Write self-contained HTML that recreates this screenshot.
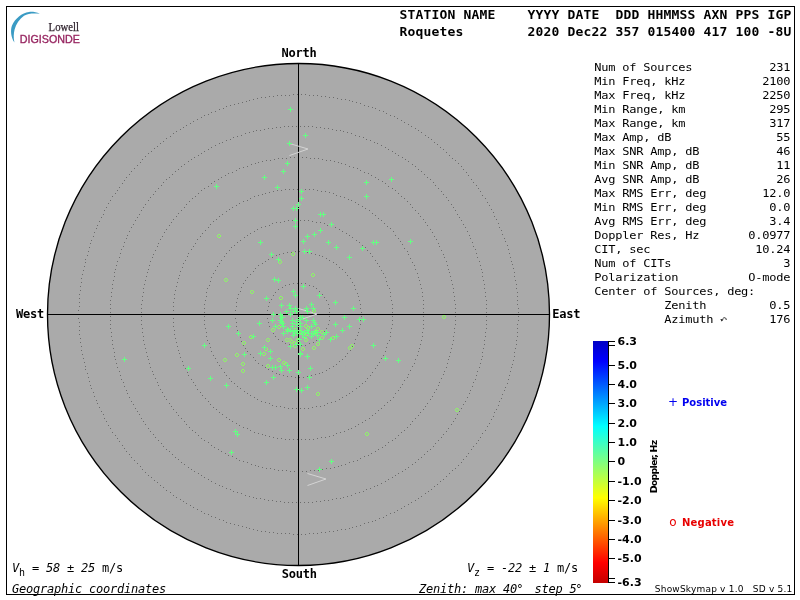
<!DOCTYPE html>
<html lang="en"><head><meta charset="utf-8"><title>Skymap - Roquetes</title>
<style>
html,body{margin:0;padding:0;background:#fff;}
body{width:800px;height:600px;overflow:hidden;}
svg{display:block;position:absolute;left:0;top:0;}
text{white-space:pre;}
.hb{font-family:"DejaVu Sans Mono","Liberation Mono",monospace;font-weight:bold;font-size:13px;letter-spacing:0.174px;fill:#000;}
.cl{font-family:"DejaVu Sans Mono","Liberation Mono",monospace;font-weight:bold;font-size:12px;letter-spacing:-0.224px;fill:#000;}
.st{font-family:"DejaVu Sans Mono","Liberation Mono",monospace;font-size:12px;letter-spacing:-0.224px;fill:#000;}
.s12{font-family:"DejaVu Sans Mono","Liberation Mono",monospace;font-size:12px;letter-spacing:-0.224px;fill:#000;}
.it{font-family:"DejaVu Sans Mono","Liberation Mono",monospace;font-size:12px;font-style:italic;letter-spacing:-0.224px;fill:#000;}
.cb{font-family:"DejaVu Sans","Liberation Sans",sans-serif;font-weight:bold;font-size:11px;fill:#000;}
.sm{font-family:"DejaVu Sans","Liberation Sans",sans-serif;font-size:9px;fill:#000;}
</style></head><body>
<svg width="800" height="600" viewBox="0 0 800 600">
<defs>
<linearGradient id="dop" x1="0" y1="0" x2="0" y2="1">
<stop offset="0.0000" stop-color="#0000c4"/>
<stop offset="0.0840" stop-color="#0000ff"/>
<stop offset="0.3520" stop-color="#00ffff"/>
<stop offset="0.5000" stop-color="#80ff80"/>
<stop offset="0.6480" stop-color="#ffff00"/>
<stop offset="0.9160" stop-color="#ff0000"/>
<stop offset="1.0000" stop-color="#c40000"/>
</linearGradient>
</defs>
<rect x="0" y="0" width="800" height="600" fill="#fff"/>
<rect x="6.5" y="6.5" width="788" height="588" fill="none" stroke="#000" stroke-width="1" shape-rendering="crispEdges"/>
<g id="logo">
<path d="M39.8 13.7 C 36 12.1, 32 11.6, 29 12 C 22 13, 15 18.5, 12 25.5 C 10.3 30, 10.8 37, 14.4 42.6 C 13.4 38, 13.6 33, 14.6 29.5 C 16 24, 19.5 19, 24 15.8 C 28 13.4, 33 13.2, 39.8 13.7 Z" fill="#3a9bc4"/>
<text x="48.6" y="30.6" textLength="30.4" lengthAdjust="spacingAndGlyphs" style="font-family:'Liberation Serif',serif;font-size:11.8px;fill:#2c1f2a;stroke:#2c1f2a;stroke-width:0.25">Lowell</text>
<text x="19.8" y="42.5" style="font-family:'Liberation Sans',sans-serif;font-size:10.2px;fill:#96235f;stroke:#96235f;stroke-width:0.3" textLength="60.2" lengthAdjust="spacingAndGlyphs">DIGISONDE</text>
</g>
<text class="hb" x="399.4" y="19">STATION NAME    YYYY DATE  DDD HHMMSS AXN PPS IGP</text>
<text class="hb" x="399.4" y="36">Roquetes        2020 Dec22 357 015400 417 100 -8U</text>
<circle cx="298.5" cy="314.5" r="251.0" fill="#aaaaaa" stroke="#000" stroke-width="1.35"/>
<path fill="#6c6c6c" shape-rendering="crispEdges" d="M329 316h1v1h-1zM329 320h1v1h-1zM328 324h1v1h-1zM326 328h1v1h-1zM324 331h1v1h-1zM322 334h1v1h-1zM319 337h1v1h-1zM316 340h1v1h-1zM313 342h1v1h-1zM309 343h1v1h-1zM305 345h1v1h-1zM301 345h1v1h-1zM297 345h1v1h-1zM293 345h1v1h-1zM289 344h1v1h-1zM285 343h1v1h-1zM282 341h1v1h-1zM278 339h1v1h-1zM275 336h1v1h-1zM273 333h1v1h-1zM271 329h1v1h-1zM269 326h1v1h-1zM268 322h1v1h-1zM267 318h1v1h-1zM267 314h1v1h-1zM267 310h1v1h-1zM268 306h1v1h-1zM269 302h1v1h-1zM271 299h1v1h-1zM273 295h1v1h-1zM275 292h1v1h-1zM278 289h1v1h-1zM282 287h1v1h-1zM285 285h1v1h-1zM289 284h1v1h-1zM293 283h1v1h-1zM297 283h1v1h-1zM301 283h1v1h-1zM305 283h1v1h-1zM309 285h1v1h-1zM313 286h1v1h-1zM316 288h1v1h-1zM319 291h1v1h-1zM322 294h1v1h-1zM324 297h1v1h-1zM326 300h1v1h-1zM328 304h1v1h-1zM329 308h1v1h-1zM329 312h1v1h-1zM361 316h1v1h-1zM360 320h1v1h-1zM360 324h1v1h-1zM359 328h1v1h-1zM358 332h1v1h-1zM357 335h1v1h-1zM355 339h1v1h-1zM354 343h1v1h-1zM352 346h1v1h-1zM350 350h1v1h-1zM347 353h1v1h-1zM345 356h1v1h-1zM342 359h1v1h-1zM339 361h1v1h-1zM336 364h1v1h-1zM333 366h1v1h-1zM329 368h1v1h-1zM326 370h1v1h-1zM322 372h1v1h-1zM319 373h1v1h-1zM315 374h1v1h-1zM311 375h1v1h-1zM307 376h1v1h-1zM303 377h1v1h-1zM299 377h1v1h-1zM295 377h1v1h-1zM291 376h1v1h-1zM287 376h1v1h-1zM283 375h1v1h-1zM279 374h1v1h-1zM276 373h1v1h-1zM272 371h1v1h-1zM268 369h1v1h-1zM265 367h1v1h-1zM262 365h1v1h-1zM258 363h1v1h-1zM255 360h1v1h-1zM253 357h1v1h-1zM250 354h1v1h-1zM247 351h1v1h-1zM245 348h1v1h-1zM243 345h1v1h-1zM241 341h1v1h-1zM240 337h1v1h-1zM238 334h1v1h-1zM237 330h1v1h-1zM236 326h1v1h-1zM236 322h1v1h-1zM235 318h1v1h-1zM235 314h1v1h-1zM235 310h1v1h-1zM236 306h1v1h-1zM236 302h1v1h-1zM237 298h1v1h-1zM238 294h1v1h-1zM240 291h1v1h-1zM241 287h1v1h-1zM243 283h1v1h-1zM245 280h1v1h-1zM247 277h1v1h-1zM250 274h1v1h-1zM253 271h1v1h-1zM255 268h1v1h-1zM258 265h1v1h-1zM262 263h1v1h-1zM265 261h1v1h-1zM268 259h1v1h-1zM272 257h1v1h-1zM276 255h1v1h-1zM279 254h1v1h-1zM283 253h1v1h-1zM287 252h1v1h-1zM291 252h1v1h-1zM295 251h1v1h-1zM299 251h1v1h-1zM303 251h1v1h-1zM307 252h1v1h-1zM311 253h1v1h-1zM315 254h1v1h-1zM319 255h1v1h-1zM322 256h1v1h-1zM326 258h1v1h-1zM329 260h1v1h-1zM333 262h1v1h-1zM336 264h1v1h-1zM339 267h1v1h-1zM342 269h1v1h-1zM345 272h1v1h-1zM347 275h1v1h-1zM350 278h1v1h-1zM352 282h1v1h-1zM354 285h1v1h-1zM355 289h1v1h-1zM357 293h1v1h-1zM358 296h1v1h-1zM359 300h1v1h-1zM360 304h1v1h-1zM360 308h1v1h-1zM361 312h1v1h-1zM392 316h1v1h-1zM392 320h1v1h-1zM392 324h1v1h-1zM391 328h1v1h-1zM390 332h1v1h-1zM390 336h1v1h-1zM389 340h1v1h-1zM387 343h1v1h-1zM386 347h1v1h-1zM385 351h1v1h-1zM383 355h1v1h-1zM381 358h1v1h-1zM379 362h1v1h-1zM377 365h1v1h-1zM375 368h1v1h-1zM372 372h1v1h-1zM370 375h1v1h-1zM367 378h1v1h-1zM365 381h1v1h-1zM362 383h1v1h-1zM359 386h1v1h-1zM356 388h1v1h-1zM352 391h1v1h-1zM349 393h1v1h-1zM346 395h1v1h-1zM342 397h1v1h-1zM339 399h1v1h-1zM335 401h1v1h-1zM331 402h1v1h-1zM327 403h1v1h-1zM324 405h1v1h-1zM320 406h1v1h-1zM316 406h1v1h-1zM312 407h1v1h-1zM308 408h1v1h-1zM304 408h1v1h-1zM300 408h1v1h-1zM296 408h1v1h-1zM292 408h1v1h-1zM288 408h1v1h-1zM284 407h1v1h-1zM280 406h1v1h-1zM276 406h1v1h-1zM272 405h1v1h-1zM269 403h1v1h-1zM265 402h1v1h-1zM261 401h1v1h-1zM257 399h1v1h-1zM254 397h1v1h-1zM250 395h1v1h-1zM247 393h1v1h-1zM244 391h1v1h-1zM240 388h1v1h-1zM237 386h1v1h-1zM234 383h1v1h-1zM231 381h1v1h-1zM229 378h1v1h-1zM226 375h1v1h-1zM224 372h1v1h-1zM221 368h1v1h-1zM219 365h1v1h-1zM217 362h1v1h-1zM215 358h1v1h-1zM213 355h1v1h-1zM211 351h1v1h-1zM210 347h1v1h-1zM209 343h1v1h-1zM207 340h1v1h-1zM206 336h1v1h-1zM206 332h1v1h-1zM205 328h1v1h-1zM204 324h1v1h-1zM204 320h1v1h-1zM204 316h1v1h-1zM204 312h1v1h-1zM204 308h1v1h-1zM204 304h1v1h-1zM205 300h1v1h-1zM206 296h1v1h-1zM206 292h1v1h-1zM207 288h1v1h-1zM209 285h1v1h-1zM210 281h1v1h-1zM211 277h1v1h-1zM213 273h1v1h-1zM215 270h1v1h-1zM217 266h1v1h-1zM219 263h1v1h-1zM221 260h1v1h-1zM224 256h1v1h-1zM226 253h1v1h-1zM229 250h1v1h-1zM231 247h1v1h-1zM234 245h1v1h-1zM237 242h1v1h-1zM240 240h1v1h-1zM244 237h1v1h-1zM247 235h1v1h-1zM250 233h1v1h-1zM254 231h1v1h-1zM257 229h1v1h-1zM261 227h1v1h-1zM265 226h1v1h-1zM269 225h1v1h-1zM272 223h1v1h-1zM276 222h1v1h-1zM280 222h1v1h-1zM284 221h1v1h-1zM288 220h1v1h-1zM292 220h1v1h-1zM296 220h1v1h-1zM300 220h1v1h-1zM304 220h1v1h-1zM308 220h1v1h-1zM312 221h1v1h-1zM316 222h1v1h-1zM320 222h1v1h-1zM324 223h1v1h-1zM327 225h1v1h-1zM331 226h1v1h-1zM335 227h1v1h-1zM339 229h1v1h-1zM342 231h1v1h-1zM346 233h1v1h-1zM349 235h1v1h-1zM352 237h1v1h-1zM356 240h1v1h-1zM359 242h1v1h-1zM362 245h1v1h-1zM365 247h1v1h-1zM367 250h1v1h-1zM370 253h1v1h-1zM372 256h1v1h-1zM375 260h1v1h-1zM377 263h1v1h-1zM379 266h1v1h-1zM381 270h1v1h-1zM383 273h1v1h-1zM385 277h1v1h-1zM386 281h1v1h-1zM387 285h1v1h-1zM389 288h1v1h-1zM390 292h1v1h-1zM390 296h1v1h-1zM391 300h1v1h-1zM392 304h1v1h-1zM392 308h1v1h-1zM392 312h1v1h-1zM423 316h1v1h-1zM423 320h1v1h-1zM423 324h1v1h-1zM423 328h1v1h-1zM422 332h1v1h-1zM422 336h1v1h-1zM421 340h1v1h-1zM420 344h1v1h-1zM419 348h1v1h-1zM418 351h1v1h-1zM417 355h1v1h-1zM415 359h1v1h-1zM414 363h1v1h-1zM412 366h1v1h-1zM410 370h1v1h-1zM408 374h1v1h-1zM407 377h1v1h-1zM404 380h1v1h-1zM402 384h1v1h-1zM400 387h1v1h-1zM398 390h1v1h-1zM395 393h1v1h-1zM393 397h1v1h-1zM390 400h1v1h-1zM387 402h1v1h-1zM384 405h1v1h-1zM381 408h1v1h-1zM378 410h1v1h-1zM375 413h1v1h-1zM372 415h1v1h-1zM369 418h1v1h-1zM365 420h1v1h-1zM362 422h1v1h-1zM358 424h1v1h-1zM355 426h1v1h-1zM351 428h1v1h-1zM348 429h1v1h-1zM344 431h1v1h-1zM340 432h1v1h-1zM336 433h1v1h-1zM333 435h1v1h-1zM329 436h1v1h-1zM325 437h1v1h-1zM321 437h1v1h-1zM317 438h1v1h-1zM313 439h1v1h-1zM309 439h1v1h-1zM305 439h1v1h-1zM301 439h1v1h-1zM297 439h1v1h-1zM293 439h1v1h-1zM289 439h1v1h-1zM285 439h1v1h-1zM281 438h1v1h-1zM277 438h1v1h-1zM273 437h1v1h-1zM269 436h1v1h-1zM265 435h1v1h-1zM262 434h1v1h-1zM258 433h1v1h-1zM254 432h1v1h-1zM250 430h1v1h-1zM247 428h1v1h-1zM243 427h1v1h-1zM239 425h1v1h-1zM236 423h1v1h-1zM232 421h1v1h-1zM229 419h1v1h-1zM226 417h1v1h-1zM222 414h1v1h-1zM219 412h1v1h-1zM216 409h1v1h-1zM213 407h1v1h-1zM210 404h1v1h-1zM208 401h1v1h-1zM205 398h1v1h-1zM202 395h1v1h-1zM200 392h1v1h-1zM197 389h1v1h-1zM195 385h1v1h-1zM193 382h1v1h-1zM191 379h1v1h-1zM188 375h1v1h-1zM187 372h1v1h-1zM185 368h1v1h-1zM183 365h1v1h-1zM182 361h1v1h-1zM180 357h1v1h-1zM179 353h1v1h-1zM178 350h1v1h-1zM177 346h1v1h-1zM176 342h1v1h-1zM175 338h1v1h-1zM174 334h1v1h-1zM174 330h1v1h-1zM173 326h1v1h-1zM173 322h1v1h-1zM173 318h1v1h-1zM173 314h1v1h-1zM173 310h1v1h-1zM173 306h1v1h-1zM173 302h1v1h-1zM174 298h1v1h-1zM174 294h1v1h-1zM175 290h1v1h-1zM176 286h1v1h-1zM177 282h1v1h-1zM178 278h1v1h-1zM179 275h1v1h-1zM180 271h1v1h-1zM182 267h1v1h-1zM183 263h1v1h-1zM185 260h1v1h-1zM187 256h1v1h-1zM188 253h1v1h-1zM191 249h1v1h-1zM193 246h1v1h-1zM195 243h1v1h-1zM197 239h1v1h-1zM200 236h1v1h-1zM202 233h1v1h-1zM205 230h1v1h-1zM208 227h1v1h-1zM210 224h1v1h-1zM213 221h1v1h-1zM216 219h1v1h-1zM219 216h1v1h-1zM222 214h1v1h-1zM226 211h1v1h-1zM229 209h1v1h-1zM232 207h1v1h-1zM236 205h1v1h-1zM239 203h1v1h-1zM243 201h1v1h-1zM247 200h1v1h-1zM250 198h1v1h-1zM254 196h1v1h-1zM258 195h1v1h-1zM262 194h1v1h-1zM265 193h1v1h-1zM269 192h1v1h-1zM273 191h1v1h-1zM277 190h1v1h-1zM281 190h1v1h-1zM285 189h1v1h-1zM289 189h1v1h-1zM293 189h1v1h-1zM297 189h1v1h-1zM301 189h1v1h-1zM305 189h1v1h-1zM309 189h1v1h-1zM313 189h1v1h-1zM317 190h1v1h-1zM321 191h1v1h-1zM325 191h1v1h-1zM329 192h1v1h-1zM333 193h1v1h-1zM336 195h1v1h-1zM340 196h1v1h-1zM344 197h1v1h-1zM348 199h1v1h-1zM351 200h1v1h-1zM355 202h1v1h-1zM358 204h1v1h-1zM362 206h1v1h-1zM365 208h1v1h-1zM369 210h1v1h-1zM372 213h1v1h-1zM375 215h1v1h-1zM378 218h1v1h-1zM381 220h1v1h-1zM384 223h1v1h-1zM387 226h1v1h-1zM390 228h1v1h-1zM393 231h1v1h-1zM395 235h1v1h-1zM398 238h1v1h-1zM400 241h1v1h-1zM402 244h1v1h-1zM404 248h1v1h-1zM407 251h1v1h-1zM408 254h1v1h-1zM410 258h1v1h-1zM412 262h1v1h-1zM414 265h1v1h-1zM415 269h1v1h-1zM417 273h1v1h-1zM418 277h1v1h-1zM419 280h1v1h-1zM420 284h1v1h-1zM421 288h1v1h-1zM422 292h1v1h-1zM422 296h1v1h-1zM423 300h1v1h-1zM423 304h1v1h-1zM423 308h1v1h-1zM423 312h1v1h-1zM455 316h1v1h-1zM455 320h1v1h-1zM455 324h1v1h-1zM454 328h1v1h-1zM454 332h1v1h-1zM453 336h1v1h-1zM453 340h1v1h-1zM452 344h1v1h-1zM451 348h1v1h-1zM450 352h1v1h-1zM449 356h1v1h-1zM448 359h1v1h-1zM447 363h1v1h-1zM446 367h1v1h-1zM444 371h1v1h-1zM443 374h1v1h-1zM441 378h1v1h-1zM439 382h1v1h-1zM438 385h1v1h-1zM436 389h1v1h-1zM434 392h1v1h-1zM432 396h1v1h-1zM430 399h1v1h-1zM427 403h1v1h-1zM425 406h1v1h-1zM423 409h1v1h-1zM420 412h1v1h-1zM418 415h1v1h-1zM415 418h1v1h-1zM412 421h1v1h-1zM410 424h1v1h-1zM407 427h1v1h-1zM404 430h1v1h-1zM401 432h1v1h-1zM398 435h1v1h-1zM395 438h1v1h-1zM392 440h1v1h-1zM388 442h1v1h-1zM385 445h1v1h-1zM382 447h1v1h-1zM378 449h1v1h-1zM375 451h1v1h-1zM371 453h1v1h-1zM368 455h1v1h-1zM364 456h1v1h-1zM360 458h1v1h-1zM357 460h1v1h-1zM353 461h1v1h-1zM349 462h1v1h-1zM345 464h1v1h-1zM341 465h1v1h-1zM338 466h1v1h-1zM334 467h1v1h-1zM330 468h1v1h-1zM326 468h1v1h-1zM322 469h1v1h-1zM318 470h1v1h-1zM314 470h1v1h-1zM310 470h1v1h-1zM306 471h1v1h-1zM302 471h1v1h-1zM298 471h1v1h-1zM294 471h1v1h-1zM290 471h1v1h-1zM286 470h1v1h-1zM282 470h1v1h-1zM278 470h1v1h-1zM274 469h1v1h-1zM270 468h1v1h-1zM266 468h1v1h-1zM262 467h1v1h-1zM258 466h1v1h-1zM255 465h1v1h-1zM251 464h1v1h-1zM247 462h1v1h-1zM243 461h1v1h-1zM239 460h1v1h-1zM236 458h1v1h-1zM232 456h1v1h-1zM228 455h1v1h-1zM225 453h1v1h-1zM221 451h1v1h-1zM218 449h1v1h-1zM214 447h1v1h-1zM211 445h1v1h-1zM208 442h1v1h-1zM204 440h1v1h-1zM201 438h1v1h-1zM198 435h1v1h-1zM195 432h1v1h-1zM192 430h1v1h-1zM189 427h1v1h-1zM186 424h1v1h-1zM184 421h1v1h-1zM181 418h1v1h-1zM178 415h1v1h-1zM176 412h1v1h-1zM173 409h1v1h-1zM171 406h1v1h-1zM169 403h1v1h-1zM166 399h1v1h-1zM164 396h1v1h-1zM162 392h1v1h-1zM160 389h1v1h-1zM158 385h1v1h-1zM157 382h1v1h-1zM155 378h1v1h-1zM153 374h1v1h-1zM152 371h1v1h-1zM150 367h1v1h-1zM149 363h1v1h-1zM148 359h1v1h-1zM147 356h1v1h-1zM146 352h1v1h-1zM145 348h1v1h-1zM144 344h1v1h-1zM143 340h1v1h-1zM143 336h1v1h-1zM142 332h1v1h-1zM142 328h1v1h-1zM141 324h1v1h-1zM141 320h1v1h-1zM141 316h1v1h-1zM141 312h1v1h-1zM141 308h1v1h-1zM141 304h1v1h-1zM142 300h1v1h-1zM142 296h1v1h-1zM143 292h1v1h-1zM143 288h1v1h-1zM144 284h1v1h-1zM145 280h1v1h-1zM146 276h1v1h-1zM147 272h1v1h-1zM148 269h1v1h-1zM149 265h1v1h-1zM150 261h1v1h-1zM152 257h1v1h-1zM153 254h1v1h-1zM155 250h1v1h-1zM157 246h1v1h-1zM158 243h1v1h-1zM160 239h1v1h-1zM162 236h1v1h-1zM164 232h1v1h-1zM166 229h1v1h-1zM169 225h1v1h-1zM171 222h1v1h-1zM173 219h1v1h-1zM176 216h1v1h-1zM178 213h1v1h-1zM181 210h1v1h-1zM184 207h1v1h-1zM186 204h1v1h-1zM189 201h1v1h-1zM192 198h1v1h-1zM195 196h1v1h-1zM198 193h1v1h-1zM201 190h1v1h-1zM204 188h1v1h-1zM208 186h1v1h-1zM211 183h1v1h-1zM214 181h1v1h-1zM218 179h1v1h-1zM221 177h1v1h-1zM225 175h1v1h-1zM228 173h1v1h-1zM232 172h1v1h-1zM236 170h1v1h-1zM239 168h1v1h-1zM243 167h1v1h-1zM247 166h1v1h-1zM251 164h1v1h-1zM255 163h1v1h-1zM258 162h1v1h-1zM262 161h1v1h-1zM266 160h1v1h-1zM270 160h1v1h-1zM274 159h1v1h-1zM278 158h1v1h-1zM282 158h1v1h-1zM286 158h1v1h-1zM290 157h1v1h-1zM294 157h1v1h-1zM298 157h1v1h-1zM302 157h1v1h-1zM306 157h1v1h-1zM310 158h1v1h-1zM314 158h1v1h-1zM318 158h1v1h-1zM322 159h1v1h-1zM326 160h1v1h-1zM330 160h1v1h-1zM334 161h1v1h-1zM338 162h1v1h-1zM341 163h1v1h-1zM345 164h1v1h-1zM349 166h1v1h-1zM353 167h1v1h-1zM357 168h1v1h-1zM360 170h1v1h-1zM364 172h1v1h-1zM368 173h1v1h-1zM371 175h1v1h-1zM375 177h1v1h-1zM378 179h1v1h-1zM382 181h1v1h-1zM385 183h1v1h-1zM388 186h1v1h-1zM392 188h1v1h-1zM395 190h1v1h-1zM398 193h1v1h-1zM401 196h1v1h-1zM404 198h1v1h-1zM407 201h1v1h-1zM410 204h1v1h-1zM412 207h1v1h-1zM415 210h1v1h-1zM418 213h1v1h-1zM420 216h1v1h-1zM423 219h1v1h-1zM425 222h1v1h-1zM427 225h1v1h-1zM430 229h1v1h-1zM432 232h1v1h-1zM434 236h1v1h-1zM436 239h1v1h-1zM438 243h1v1h-1zM439 246h1v1h-1zM441 250h1v1h-1zM443 254h1v1h-1zM444 257h1v1h-1zM446 261h1v1h-1zM447 265h1v1h-1zM448 269h1v1h-1zM449 272h1v1h-1zM450 276h1v1h-1zM451 280h1v1h-1zM452 284h1v1h-1zM453 288h1v1h-1zM453 292h1v1h-1zM454 296h1v1h-1zM454 300h1v1h-1zM455 304h1v1h-1zM455 308h1v1h-1zM455 312h1v1h-1zM486 316h1v1h-1zM486 320h1v1h-1zM486 324h1v1h-1zM486 328h1v1h-1zM485 332h1v1h-1zM485 336h1v1h-1zM484 340h1v1h-1zM484 344h1v1h-1zM483 348h1v1h-1zM482 352h1v1h-1zM482 356h1v1h-1zM481 359h1v1h-1zM480 363h1v1h-1zM479 367h1v1h-1zM477 371h1v1h-1zM476 375h1v1h-1zM475 379h1v1h-1zM473 382h1v1h-1zM472 386h1v1h-1zM470 390h1v1h-1zM469 393h1v1h-1zM467 397h1v1h-1zM465 401h1v1h-1zM463 404h1v1h-1zM461 408h1v1h-1zM459 411h1v1h-1zM457 414h1v1h-1zM455 418h1v1h-1zM453 421h1v1h-1zM451 424h1v1h-1zM448 428h1v1h-1zM446 431h1v1h-1zM443 434h1v1h-1zM441 437h1v1h-1zM438 440h1v1h-1zM435 443h1v1h-1zM433 446h1v1h-1zM430 449h1v1h-1zM427 451h1v1h-1zM424 454h1v1h-1zM421 457h1v1h-1zM418 459h1v1h-1zM415 462h1v1h-1zM412 464h1v1h-1zM408 467h1v1h-1zM405 469h1v1h-1zM402 471h1v1h-1zM398 473h1v1h-1zM395 475h1v1h-1zM392 477h1v1h-1zM388 479h1v1h-1zM385 481h1v1h-1zM381 483h1v1h-1zM377 485h1v1h-1zM374 486h1v1h-1zM370 488h1v1h-1zM366 489h1v1h-1zM363 491h1v1h-1zM359 492h1v1h-1zM355 493h1v1h-1zM351 495h1v1h-1zM347 496h1v1h-1zM343 497h1v1h-1zM340 498h1v1h-1zM336 498h1v1h-1zM332 499h1v1h-1zM328 500h1v1h-1zM324 500h1v1h-1zM320 501h1v1h-1zM316 501h1v1h-1zM312 502h1v1h-1zM308 502h1v1h-1zM304 502h1v1h-1zM300 502h1v1h-1zM296 502h1v1h-1zM292 502h1v1h-1zM288 502h1v1h-1zM284 502h1v1h-1zM280 501h1v1h-1zM276 501h1v1h-1zM272 500h1v1h-1zM268 500h1v1h-1zM264 499h1v1h-1zM260 498h1v1h-1zM256 498h1v1h-1zM253 497h1v1h-1zM249 496h1v1h-1zM245 495h1v1h-1zM241 493h1v1h-1zM237 492h1v1h-1zM233 491h1v1h-1zM230 489h1v1h-1zM226 488h1v1h-1zM222 486h1v1h-1zM219 485h1v1h-1zM215 483h1v1h-1zM211 481h1v1h-1zM208 479h1v1h-1zM204 477h1v1h-1zM201 475h1v1h-1zM198 473h1v1h-1zM194 471h1v1h-1zM191 469h1v1h-1zM188 467h1v1h-1zM184 464h1v1h-1zM181 462h1v1h-1zM178 459h1v1h-1zM175 457h1v1h-1zM172 454h1v1h-1zM169 451h1v1h-1zM166 449h1v1h-1zM163 446h1v1h-1zM161 443h1v1h-1zM158 440h1v1h-1zM155 437h1v1h-1zM153 434h1v1h-1zM150 431h1v1h-1zM148 428h1v1h-1zM145 424h1v1h-1zM143 421h1v1h-1zM141 418h1v1h-1zM139 414h1v1h-1zM137 411h1v1h-1zM135 408h1v1h-1zM133 404h1v1h-1zM131 401h1v1h-1zM129 397h1v1h-1zM127 393h1v1h-1zM126 390h1v1h-1zM124 386h1v1h-1zM123 382h1v1h-1zM121 379h1v1h-1zM120 375h1v1h-1zM119 371h1v1h-1zM117 367h1v1h-1zM116 363h1v1h-1zM115 359h1v1h-1zM114 356h1v1h-1zM114 352h1v1h-1zM113 348h1v1h-1zM112 344h1v1h-1zM112 340h1v1h-1zM111 336h1v1h-1zM111 332h1v1h-1zM110 328h1v1h-1zM110 324h1v1h-1zM110 320h1v1h-1zM110 316h1v1h-1zM110 312h1v1h-1zM110 308h1v1h-1zM110 304h1v1h-1zM110 300h1v1h-1zM111 296h1v1h-1zM111 292h1v1h-1zM112 288h1v1h-1zM112 284h1v1h-1zM113 280h1v1h-1zM114 276h1v1h-1zM114 272h1v1h-1zM115 269h1v1h-1zM116 265h1v1h-1zM117 261h1v1h-1zM119 257h1v1h-1zM120 253h1v1h-1zM121 249h1v1h-1zM123 246h1v1h-1zM124 242h1v1h-1zM126 238h1v1h-1zM127 235h1v1h-1zM129 231h1v1h-1zM131 227h1v1h-1zM133 224h1v1h-1zM135 220h1v1h-1zM137 217h1v1h-1zM139 214h1v1h-1zM141 210h1v1h-1zM143 207h1v1h-1zM145 204h1v1h-1zM148 200h1v1h-1zM150 197h1v1h-1zM153 194h1v1h-1zM155 191h1v1h-1zM158 188h1v1h-1zM161 185h1v1h-1zM163 182h1v1h-1zM166 179h1v1h-1zM169 177h1v1h-1zM172 174h1v1h-1zM175 171h1v1h-1zM178 169h1v1h-1zM181 166h1v1h-1zM184 164h1v1h-1zM188 161h1v1h-1zM191 159h1v1h-1zM194 157h1v1h-1zM198 155h1v1h-1zM201 153h1v1h-1zM204 151h1v1h-1zM208 149h1v1h-1zM211 147h1v1h-1zM215 145h1v1h-1zM219 143h1v1h-1zM222 142h1v1h-1zM226 140h1v1h-1zM230 139h1v1h-1zM233 137h1v1h-1zM237 136h1v1h-1zM241 135h1v1h-1zM245 133h1v1h-1zM249 132h1v1h-1zM253 131h1v1h-1zM256 130h1v1h-1zM260 130h1v1h-1zM264 129h1v1h-1zM268 128h1v1h-1zM272 128h1v1h-1zM276 127h1v1h-1zM280 127h1v1h-1zM284 126h1v1h-1zM288 126h1v1h-1zM292 126h1v1h-1zM296 126h1v1h-1zM300 126h1v1h-1zM304 126h1v1h-1zM308 126h1v1h-1zM312 126h1v1h-1zM316 127h1v1h-1zM320 127h1v1h-1zM324 128h1v1h-1zM328 128h1v1h-1zM332 129h1v1h-1zM336 130h1v1h-1zM340 130h1v1h-1zM343 131h1v1h-1zM347 132h1v1h-1zM351 133h1v1h-1zM355 135h1v1h-1zM359 136h1v1h-1zM363 137h1v1h-1zM366 139h1v1h-1zM370 140h1v1h-1zM374 142h1v1h-1zM377 143h1v1h-1zM381 145h1v1h-1zM385 147h1v1h-1zM388 149h1v1h-1zM392 151h1v1h-1zM395 153h1v1h-1zM398 155h1v1h-1zM402 157h1v1h-1zM405 159h1v1h-1zM408 161h1v1h-1zM412 164h1v1h-1zM415 166h1v1h-1zM418 169h1v1h-1zM421 171h1v1h-1zM424 174h1v1h-1zM427 177h1v1h-1zM430 179h1v1h-1zM433 182h1v1h-1zM435 185h1v1h-1zM438 188h1v1h-1zM441 191h1v1h-1zM443 194h1v1h-1zM446 197h1v1h-1zM448 200h1v1h-1zM451 204h1v1h-1zM453 207h1v1h-1zM455 210h1v1h-1zM457 214h1v1h-1zM459 217h1v1h-1zM461 220h1v1h-1zM463 224h1v1h-1zM465 227h1v1h-1zM467 231h1v1h-1zM469 235h1v1h-1zM470 238h1v1h-1zM472 242h1v1h-1zM473 246h1v1h-1zM475 249h1v1h-1zM476 253h1v1h-1zM477 257h1v1h-1zM479 261h1v1h-1zM480 265h1v1h-1zM481 269h1v1h-1zM482 272h1v1h-1zM482 276h1v1h-1zM483 280h1v1h-1zM484 284h1v1h-1zM484 288h1v1h-1zM485 292h1v1h-1zM485 296h1v1h-1zM486 300h1v1h-1zM486 304h1v1h-1zM486 308h1v1h-1zM486 312h1v1h-1zM518 316h1v1h-1zM518 320h1v1h-1zM517 324h1v1h-1zM517 328h1v1h-1zM517 332h1v1h-1zM517 336h1v1h-1zM516 340h1v1h-1zM516 344h1v1h-1zM515 348h1v1h-1zM514 352h1v1h-1zM514 356h1v1h-1zM513 360h1v1h-1zM512 364h1v1h-1zM511 367h1v1h-1zM510 371h1v1h-1zM509 375h1v1h-1zM508 379h1v1h-1zM507 383h1v1h-1zM505 387h1v1h-1zM504 390h1v1h-1zM502 394h1v1h-1zM501 398h1v1h-1zM499 401h1v1h-1zM498 405h1v1h-1zM496 409h1v1h-1zM494 412h1v1h-1zM493 416h1v1h-1zM491 419h1v1h-1zM489 423h1v1h-1zM487 426h1v1h-1zM485 430h1v1h-1zM482 433h1v1h-1zM480 437h1v1h-1zM478 440h1v1h-1zM476 443h1v1h-1zM473 446h1v1h-1zM471 449h1v1h-1zM468 453h1v1h-1zM466 456h1v1h-1zM463 459h1v1h-1zM461 462h1v1h-1zM458 465h1v1h-1zM455 468h1v1h-1zM452 470h1v1h-1zM449 473h1v1h-1zM446 476h1v1h-1zM443 479h1v1h-1zM440 481h1v1h-1zM437 484h1v1h-1zM434 486h1v1h-1zM431 489h1v1h-1zM428 491h1v1h-1zM425 493h1v1h-1zM421 496h1v1h-1zM418 498h1v1h-1zM415 500h1v1h-1zM411 502h1v1h-1zM408 504h1v1h-1zM404 506h1v1h-1zM401 508h1v1h-1zM397 510h1v1h-1zM394 512h1v1h-1zM390 513h1v1h-1zM386 515h1v1h-1zM383 517h1v1h-1zM379 518h1v1h-1zM375 520h1v1h-1zM372 521h1v1h-1zM368 522h1v1h-1zM364 523h1v1h-1zM360 525h1v1h-1zM356 526h1v1h-1zM352 527h1v1h-1zM349 528h1v1h-1zM345 529h1v1h-1zM341 529h1v1h-1zM337 530h1v1h-1zM333 531h1v1h-1zM329 531h1v1h-1zM325 532h1v1h-1zM321 532h1v1h-1zM317 533h1v1h-1zM313 533h1v1h-1zM309 533h1v1h-1zM305 534h1v1h-1zM301 534h1v1h-1zM297 534h1v1h-1zM293 534h1v1h-1zM289 533h1v1h-1zM285 533h1v1h-1zM281 533h1v1h-1zM277 533h1v1h-1zM273 532h1v1h-1zM269 532h1v1h-1zM265 531h1v1h-1zM261 531h1v1h-1zM257 530h1v1h-1zM253 529h1v1h-1zM249 528h1v1h-1zM246 527h1v1h-1zM242 526h1v1h-1zM238 525h1v1h-1zM234 524h1v1h-1zM230 523h1v1h-1zM226 522h1v1h-1zM223 520h1v1h-1zM219 519h1v1h-1zM215 517h1v1h-1zM211 516h1v1h-1zM208 514h1v1h-1zM204 513h1v1h-1zM201 511h1v1h-1zM197 509h1v1h-1zM193 507h1v1h-1zM190 505h1v1h-1zM186 503h1v1h-1zM183 501h1v1h-1zM180 499h1v1h-1zM176 497h1v1h-1zM173 495h1v1h-1zM170 492h1v1h-1zM166 490h1v1h-1zM163 487h1v1h-1zM160 485h1v1h-1zM157 482h1v1h-1zM154 480h1v1h-1zM151 477h1v1h-1zM148 475h1v1h-1zM145 472h1v1h-1zM142 469h1v1h-1zM140 466h1v1h-1zM137 463h1v1h-1zM134 460h1v1h-1zM131 457h1v1h-1zM129 454h1v1h-1zM126 451h1v1h-1zM124 448h1v1h-1zM122 445h1v1h-1zM119 441h1v1h-1zM117 438h1v1h-1zM115 435h1v1h-1zM112 432h1v1h-1zM110 428h1v1h-1zM108 425h1v1h-1zM106 421h1v1h-1zM104 418h1v1h-1zM103 414h1v1h-1zM101 411h1v1h-1zM99 407h1v1h-1zM97 403h1v1h-1zM96 400h1v1h-1zM94 396h1v1h-1zM93 392h1v1h-1zM91 388h1v1h-1zM90 385h1v1h-1zM89 381h1v1h-1zM88 377h1v1h-1zM87 373h1v1h-1zM85 369h1v1h-1zM85 366h1v1h-1zM84 362h1v1h-1zM83 358h1v1h-1zM82 354h1v1h-1zM81 350h1v1h-1zM81 346h1v1h-1zM80 342h1v1h-1zM80 338h1v1h-1zM79 334h1v1h-1zM79 330h1v1h-1zM79 326h1v1h-1zM79 322h1v1h-1zM78 318h1v1h-1zM78 314h1v1h-1zM78 310h1v1h-1zM79 306h1v1h-1zM79 302h1v1h-1zM79 298h1v1h-1zM79 294h1v1h-1zM80 290h1v1h-1zM80 286h1v1h-1zM81 282h1v1h-1zM81 278h1v1h-1zM82 274h1v1h-1zM83 270h1v1h-1zM84 266h1v1h-1zM85 262h1v1h-1zM85 259h1v1h-1zM87 255h1v1h-1zM88 251h1v1h-1zM89 247h1v1h-1zM90 243h1v1h-1zM91 240h1v1h-1zM93 236h1v1h-1zM94 232h1v1h-1zM96 228h1v1h-1zM97 225h1v1h-1zM99 221h1v1h-1zM101 217h1v1h-1zM103 214h1v1h-1zM104 210h1v1h-1zM106 207h1v1h-1zM108 203h1v1h-1zM110 200h1v1h-1zM112 196h1v1h-1zM115 193h1v1h-1zM117 190h1v1h-1zM119 187h1v1h-1zM122 183h1v1h-1zM124 180h1v1h-1zM126 177h1v1h-1zM129 174h1v1h-1zM131 171h1v1h-1zM134 168h1v1h-1zM137 165h1v1h-1zM140 162h1v1h-1zM142 159h1v1h-1zM145 156h1v1h-1zM148 153h1v1h-1zM151 151h1v1h-1zM154 148h1v1h-1zM157 146h1v1h-1zM160 143h1v1h-1zM163 141h1v1h-1zM166 138h1v1h-1zM170 136h1v1h-1zM173 133h1v1h-1zM176 131h1v1h-1zM180 129h1v1h-1zM183 127h1v1h-1zM186 125h1v1h-1zM190 123h1v1h-1zM193 121h1v1h-1zM197 119h1v1h-1zM201 117h1v1h-1zM204 115h1v1h-1zM208 114h1v1h-1zM211 112h1v1h-1zM215 111h1v1h-1zM219 109h1v1h-1zM223 108h1v1h-1zM226 106h1v1h-1zM230 105h1v1h-1zM234 104h1v1h-1zM238 103h1v1h-1zM242 102h1v1h-1zM246 101h1v1h-1zM249 100h1v1h-1zM253 99h1v1h-1zM257 98h1v1h-1zM261 97h1v1h-1zM265 97h1v1h-1zM269 96h1v1h-1zM273 96h1v1h-1zM277 95h1v1h-1zM281 95h1v1h-1zM285 95h1v1h-1zM289 95h1v1h-1zM293 94h1v1h-1zM297 94h1v1h-1zM301 94h1v1h-1zM305 94h1v1h-1zM309 95h1v1h-1zM313 95h1v1h-1zM317 95h1v1h-1zM321 96h1v1h-1zM325 96h1v1h-1zM329 97h1v1h-1zM333 97h1v1h-1zM337 98h1v1h-1zM341 99h1v1h-1zM345 99h1v1h-1zM349 100h1v1h-1zM352 101h1v1h-1zM356 102h1v1h-1zM360 103h1v1h-1zM364 105h1v1h-1zM368 106h1v1h-1zM372 107h1v1h-1zM375 108h1v1h-1zM379 110h1v1h-1zM383 111h1v1h-1zM386 113h1v1h-1zM390 115h1v1h-1zM394 116h1v1h-1zM397 118h1v1h-1zM401 120h1v1h-1zM404 122h1v1h-1zM408 124h1v1h-1zM411 126h1v1h-1zM415 128h1v1h-1zM418 130h1v1h-1zM421 132h1v1h-1zM425 135h1v1h-1zM428 137h1v1h-1zM431 139h1v1h-1zM434 142h1v1h-1zM437 144h1v1h-1zM440 147h1v1h-1zM443 149h1v1h-1zM446 152h1v1h-1zM449 155h1v1h-1zM452 158h1v1h-1zM455 160h1v1h-1zM458 163h1v1h-1zM461 166h1v1h-1zM463 169h1v1h-1zM466 172h1v1h-1zM468 175h1v1h-1zM471 179h1v1h-1zM473 182h1v1h-1zM476 185h1v1h-1zM478 188h1v1h-1zM480 191h1v1h-1zM482 195h1v1h-1zM485 198h1v1h-1zM487 202h1v1h-1zM489 205h1v1h-1zM491 209h1v1h-1zM493 212h1v1h-1zM494 216h1v1h-1zM496 219h1v1h-1zM498 223h1v1h-1zM499 227h1v1h-1zM501 230h1v1h-1zM502 234h1v1h-1zM504 238h1v1h-1zM505 241h1v1h-1zM507 245h1v1h-1zM508 249h1v1h-1zM509 253h1v1h-1zM510 257h1v1h-1zM511 261h1v1h-1zM512 264h1v1h-1zM513 268h1v1h-1zM514 272h1v1h-1zM514 276h1v1h-1zM515 280h1v1h-1zM516 284h1v1h-1zM516 288h1v1h-1zM517 292h1v1h-1zM517 296h1v1h-1zM517 300h1v1h-1zM517 304h1v1h-1zM518 308h1v1h-1zM518 312h1v1h-1z"/>
<line x1="298.5" y1="63" x2="298.5" y2="566" stroke="#000" stroke-width="1" shape-rendering="crispEdges"/>
<line x1="47" y1="314.5" x2="550" y2="314.5" stroke="#000" stroke-width="1" shape-rendering="crispEdges"/>
<polyline points="298.5,308.5 317.0,314.0 298.5,320.5" fill="none" stroke="#d4d4d4" stroke-width="1"/>
<polyline points="289.5,143.5 308.0,149.0 289.5,155.5" fill="none" stroke="#d4d4d4" stroke-width="1"/>
<polyline points="307.5,473.5 326.0,479.0 307.5,485.5" fill="none" stroke="#d4d4d4" stroke-width="1"/>
<g id="sources" shape-rendering="crispEdges">
<path fill="#8cf864" d="M218 234h2v1h-2zM217 235h1v2h-1zM220 235h1v2h-1zM218 237h2v1h-2zM292 252h2v1h-2zM291 253h1v2h-1zM294 253h1v2h-1zM292 255h2v1h-2zM279 260h2v1h-2zM278 261h1v2h-1zM281 261h1v2h-1zM279 263h2v1h-2zM312 273h2v1h-2zM311 274h1v2h-1zM314 274h1v2h-1zM312 276h2v1h-2zM225 278h2v1h-2zM224 279h1v2h-1zM227 279h1v2h-1zM225 281h2v1h-2zM251 290h2v1h-2zM250 291h1v2h-1zM253 291h1v2h-1zM251 293h2v1h-2zM280 296h2v1h-2zM279 297h1v2h-1zM282 297h1v2h-1zM280 299h2v1h-2zM313 309h2v1h-2zM312 310h1v2h-1zM315 310h1v2h-1zM313 312h2v1h-2zM443 315h2v1h-2zM442 316h1v2h-1zM445 316h1v2h-1zM443 318h2v1h-2zM349 346h2v1h-2zM348 347h1v2h-1zM351 347h1v2h-1zM349 349h2v1h-2zM351 344h2v1h-2zM350 345h1v2h-1zM353 345h1v2h-1zM351 347h2v1h-2zM456 408h2v1h-2zM455 409h1v2h-1zM458 409h1v2h-1zM456 411h2v1h-2zM366 432h2v1h-2zM365 433h1v2h-1zM368 433h1v2h-1zM366 435h2v1h-2zM250 335h2v1h-2zM249 336h1v2h-1zM252 336h1v2h-1zM250 338h2v1h-2zM243 341h2v1h-2zM242 342h1v2h-1zM245 342h1v2h-1zM243 344h2v1h-2zM236 353h2v1h-2zM235 354h1v2h-1zM238 354h1v2h-1zM236 356h2v1h-2zM224 358h2v1h-2zM223 359h1v2h-1zM226 359h1v2h-1zM224 361h2v1h-2zM242 362h2v1h-2zM241 363h1v2h-1zM244 363h1v2h-1zM242 365h2v1h-2zM242 369h2v1h-2zM241 370h1v2h-1zM244 370h1v2h-1zM242 372h2v1h-2zM317 392h2v1h-2zM316 393h1v2h-1zM319 393h1v2h-1zM317 395h2v1h-2zM278 325h2v1h-2zM277 326h1v2h-1zM280 326h1v2h-1zM278 328h2v1h-2zM272 328h2v1h-2zM271 329h1v2h-1zM274 329h1v2h-1zM272 331h2v1h-2zM267 338h2v1h-2zM266 339h1v2h-1zM269 339h1v2h-1zM267 341h2v1h-2zM286 338h2v1h-2zM285 339h1v2h-1zM288 339h1v2h-1zM286 341h2v1h-2zM289 338h2v1h-2zM288 339h1v2h-1zM291 339h1v2h-1zM289 341h2v1h-2zM291 340h2v1h-2zM290 341h1v2h-1zM293 341h1v2h-1zM291 343h2v1h-2zM293 341h2v1h-2zM292 342h1v2h-1zM295 342h1v2h-1zM293 344h2v1h-2zM287 328h2v1h-2zM286 329h1v2h-1zM289 329h1v2h-1zM287 331h2v1h-2zM305 324h2v1h-2zM304 325h1v2h-1zM307 325h1v2h-1zM305 327h2v1h-2zM305 338h2v1h-2zM304 339h1v2h-1zM307 339h1v2h-1zM305 341h2v1h-2zM297 338h2v1h-2zM296 339h1v2h-1zM299 339h1v2h-1zM297 341h2v1h-2zM294 344h2v1h-2zM293 345h1v2h-1zM296 345h1v2h-1zM294 347h2v1h-2zM302 347h2v1h-2zM301 348h1v2h-1zM304 348h1v2h-1zM302 350h2v1h-2zM265 347h2v1h-2zM264 348h1v2h-1zM267 348h1v2h-1zM265 350h2v1h-2zM300 330h2v1h-2zM299 331h1v2h-1zM302 331h1v2h-1zM300 333h2v1h-2zM306 332h2v1h-2zM305 333h1v2h-1zM308 333h1v2h-1zM306 335h2v1h-2zM281 320h2v1h-2zM280 321h1v2h-1zM283 321h1v2h-1zM281 323h2v1h-2zM307 326h2v1h-2zM306 327h1v2h-1zM309 327h1v2h-1zM307 329h2v1h-2zM294 328h2v1h-2zM293 329h1v2h-1zM296 329h1v2h-1zM294 331h2v1h-2zM307 326h2v1h-2zM306 327h1v2h-1zM309 327h1v2h-1zM307 329h2v1h-2zM317 327h2v1h-2zM316 328h1v2h-1zM319 328h1v2h-1zM317 330h2v1h-2zM321 330h2v1h-2zM320 331h1v2h-1zM323 331h1v2h-1zM321 333h2v1h-2zM315 330h2v1h-2zM314 331h1v2h-1zM317 331h1v2h-1zM315 333h2v1h-2zM332 336h2v1h-2zM331 337h1v2h-1zM334 337h1v2h-1zM332 339h2v1h-2zM317 342h2v1h-2zM316 343h1v2h-1zM319 343h1v2h-1zM317 345h2v1h-2zM313 346h2v1h-2zM312 347h1v2h-1zM315 347h1v2h-1zM313 349h2v1h-2zM321 336h2v1h-2zM320 337h1v2h-1zM323 337h1v2h-1zM321 339h2v1h-2zM263 352h2v1h-2zM262 353h1v2h-1zM265 353h1v2h-1zM263 355h2v1h-2zM267 364h2v1h-2zM266 365h1v2h-1zM269 365h1v2h-1zM267 367h2v1h-2zM278 358h2v1h-2zM277 359h1v2h-1zM280 359h1v2h-1zM278 361h2v1h-2zM283 361h2v1h-2zM282 362h1v2h-1zM285 362h1v2h-1zM283 364h2v1h-2zM285 362h2v1h-2zM284 363h1v2h-1zM287 363h1v2h-1zM285 365h2v1h-2z"/>
<path fill="#64ff82" d="M288 109h5v1h-5zM290 107h1v5h-1zM303 135h5v1h-5zM305 133h1v5h-1zM287 143h5v1h-5zM289 141h1v5h-1zM285 163h5v1h-5zM287 161h1v5h-1zM281 171h5v1h-5zM283 169h1v5h-1zM262 177h5v1h-5zM264 175h1v5h-1zM214 186h5v1h-5zM216 184h1v5h-1zM275 187h5v1h-5zM277 185h1v5h-1zM299 191h5v1h-5zM301 189h1v5h-1zM299 198h5v1h-5zM301 196h1v5h-1zM296 204h5v1h-5zM298 202h1v5h-1zM291 208h5v1h-5zM293 206h1v5h-1zM294 208h5v1h-5zM296 206h1v5h-1zM318 214h5v1h-5zM320 212h1v5h-1zM321 214h5v1h-5zM323 212h1v5h-1zM293 220h5v1h-5zM295 218h1v5h-1zM293 226h5v1h-5zM295 224h1v5h-1zM329 224h5v1h-5zM331 222h1v5h-1zM318 230h5v1h-5zM320 228h1v5h-1zM312 234h5v1h-5zM314 232h1v5h-1zM305 236h5v1h-5zM307 234h1v5h-1zM301 241h5v1h-5zM303 239h1v5h-1zM326 242h5v1h-5zM328 240h1v5h-1zM334 247h5v1h-5zM336 245h1v5h-1zM258 242h5v1h-5zM260 240h1v5h-1zM302 251h5v1h-5zM304 249h1v5h-1zM307 251h5v1h-5zM309 249h1v5h-1zM347 257h5v1h-5zM349 255h1v5h-1zM269 254h5v1h-5zM271 252h1v5h-1zM276 259h5v1h-5zM278 257h1v5h-1zM272 279h5v1h-5zM274 277h1v5h-1zM276 280h5v1h-5zM278 278h1v5h-1zM301 286h5v1h-5zM303 284h1v5h-1zM291 291h5v1h-5zM293 289h1v5h-1zM293 295h5v1h-5zM295 293h1v5h-1zM317 295h5v1h-5zM319 293h1v5h-1zM264 298h5v1h-5zM266 296h1v5h-1zM333 302h5v1h-5zM335 300h1v5h-1zM279 305h5v1h-5zM281 303h1v5h-1zM287 305h5v1h-5zM289 303h1v5h-1zM309 304h5v1h-5zM311 302h1v5h-1zM351 308h5v1h-5zM353 306h1v5h-1zM389 179h5v1h-5zM391 177h1v5h-1zM364 182h5v1h-5zM366 180h1v5h-1zM364 196h5v1h-5zM366 194h1v5h-1zM408 241h5v1h-5zM410 239h1v5h-1zM371 242h5v1h-5zM373 240h1v5h-1zM374 242h5v1h-5zM376 240h1v5h-1zM360 248h5v1h-5zM362 246h1v5h-1zM342 317h5v1h-5zM344 315h1v5h-1zM357 319h5v1h-5zM359 317h1v5h-1zM361 319h5v1h-5zM363 317h1v5h-1zM347 326h5v1h-5zM349 324h1v5h-1zM340 330h5v1h-5zM342 328h1v5h-1zM371 345h5v1h-5zM373 343h1v5h-1zM383 358h5v1h-5zM385 356h1v5h-1zM396 360h5v1h-5zM398 358h1v5h-1zM122 359h5v1h-5zM124 357h1v5h-1zM226 326h5v1h-5zM228 324h1v5h-1zM236 333h5v1h-5zM238 331h1v5h-1zM202 345h5v1h-5zM204 343h1v5h-1zM251 336h5v1h-5zM253 334h1v5h-1zM242 354h5v1h-5zM244 352h1v5h-1zM186 368h5v1h-5zM188 366h1v5h-1zM208 378h5v1h-5zM210 376h1v5h-1zM224 385h5v1h-5zM226 383h1v5h-1zM257 323h5v1h-5zM259 321h1v5h-1zM258 353h5v1h-5zM260 351h1v5h-1zM264 382h5v1h-5zM266 380h1v5h-1zM294 389h5v1h-5zM296 387h1v5h-1zM299 390h5v1h-5zM301 388h1v5h-1zM305 387h5v1h-5zM307 385h1v5h-1zM233 431h5v1h-5zM235 429h1v5h-1zM235 434h5v1h-5zM237 432h1v5h-1zM229 452h5v1h-5zM231 450h1v5h-1zM329 461h5v1h-5zM331 459h1v5h-1zM317 469h5v1h-5zM319 467h1v5h-1zM288 308h5v1h-5zM290 306h1v5h-1zM284 311h5v1h-5zM286 309h1v5h-1zM293 308h5v1h-5zM295 306h1v5h-1zM294 311h5v1h-5zM296 309h1v5h-1zM291 311h5v1h-5zM293 309h1v5h-1zM271 314h5v1h-5zM273 312h1v5h-1zM278 314h5v1h-5zM280 312h1v5h-1zM288 314h5v1h-5zM290 312h1v5h-1zM279 317h5v1h-5zM281 315h1v5h-1zM280 317h5v1h-5zM282 315h1v5h-1zM270 320h5v1h-5zM272 318h1v5h-1zM278 320h5v1h-5zM280 318h1v5h-1zM279 322h5v1h-5zM281 320h1v5h-1zM298 317h5v1h-5zM300 315h1v5h-1zM300 317h5v1h-5zM302 315h1v5h-1zM304 308h5v1h-5zM306 306h1v5h-1zM305 311h5v1h-5zM307 309h1v5h-1zM304 320h5v1h-5zM306 318h1v5h-1zM273 326h5v1h-5zM275 324h1v5h-1zM280 323h5v1h-5zM282 321h1v5h-1zM281 326h5v1h-5zM283 324h1v5h-1zM290 320h5v1h-5zM292 318h1v5h-1zM290 323h5v1h-5zM292 321h1v5h-1zM290 326h5v1h-5zM292 324h1v5h-1zM294 321h5v1h-5zM296 319h1v5h-1zM294 324h5v1h-5zM296 322h1v5h-1zM298 323h5v1h-5zM300 321h1v5h-1zM298 326h5v1h-5zM300 324h1v5h-1zM297 319h5v1h-5zM299 317h1v5h-1zM281 333h5v1h-5zM283 331h1v5h-1zM285 329h5v1h-5zM287 327h1v5h-1zM288 330h5v1h-5zM290 328h1v5h-1zM291 331h5v1h-5zM293 329h1v5h-1zM292 333h5v1h-5zM294 331h1v5h-1zM291 335h5v1h-5zM293 333h1v5h-1zM294 330h5v1h-5zM296 328h1v5h-1zM295 333h5v1h-5zM297 331h1v5h-1zM299 331h5v1h-5zM301 329h1v5h-1zM302 332h5v1h-5zM304 330h1v5h-1zM300 334h5v1h-5zM302 332h1v5h-1zM305 330h5v1h-5zM307 328h1v5h-1zM306 333h5v1h-5zM308 331h1v5h-1zM288 346h5v1h-5zM290 344h1v5h-1zM294 344h5v1h-5zM296 342h1v5h-1zM298 344h5v1h-5zM300 342h1v5h-1zM268 351h5v1h-5zM270 349h1v5h-1zM298 353h5v1h-5zM300 351h1v5h-1zM305 356h5v1h-5zM307 354h1v5h-1zM262 347h5v1h-5zM264 345h1v5h-1zM297 339h5v1h-5zM299 337h1v5h-1zM302 337h5v1h-5zM304 335h1v5h-1zM285 331h5v1h-5zM287 329h1v5h-1zM311 308h5v1h-5zM313 306h1v5h-1zM311 320h5v1h-5zM313 318h1v5h-1zM312 322h5v1h-5zM314 320h1v5h-1zM313 324h5v1h-5zM315 322h1v5h-1zM309 326h5v1h-5zM311 324h1v5h-1zM333 324h5v1h-5zM335 322h1v5h-1zM334 336h5v1h-5zM336 334h1v5h-1zM328 339h5v1h-5zM330 337h1v5h-1zM324 332h5v1h-5zM326 330h1v5h-1zM322 334h5v1h-5zM324 332h1v5h-1zM315 332h5v1h-5zM317 330h1v5h-1zM315 335h5v1h-5zM317 333h1v5h-1zM309 333h5v1h-5zM311 331h1v5h-1zM309 336h5v1h-5zM311 334h1v5h-1zM312 331h5v1h-5zM314 329h1v5h-1zM311 334h5v1h-5zM313 332h1v5h-1zM317 339h5v1h-5zM319 337h1v5h-1zM268 358h5v1h-5zM270 356h1v5h-1zM270 367h5v1h-5zM272 365h1v5h-1zM273 367h5v1h-5zM275 365h1v5h-1zM278 366h5v1h-5zM280 364h1v5h-1zM285 365h5v1h-5zM287 363h1v5h-1zM279 370h5v1h-5zM281 368h1v5h-1zM287 370h5v1h-5zM289 368h1v5h-1zM296 372h5v1h-5zM298 370h1v5h-1zM271 377h5v1h-5zM273 375h1v5h-1zM298 354h5v1h-5zM300 352h1v5h-1zM308 368h5v1h-5zM310 366h1v5h-1zM307 377h5v1h-5zM309 375h1v5h-1z"/>
</g>
<text class="cl" x="281.6" y="56.7">North</text>
<text class="cl" x="281.7" y="578">South</text>
<text class="cl" x="15.9" y="318">West</text>
<text class="cl" x="552.2" y="318">East</text>
<text class="st" transform="translate(594.3,71) scale(1,0.92)">Num of Sources</text>
<text class="st" transform="translate(769.3,71) scale(1,0.92)">231</text>
<text class="st" transform="translate(594.3,85) scale(1,0.92)">Min Freq, kHz</text>
<text class="st" transform="translate(762.3,85) scale(1,0.92)">2100</text>
<text class="st" transform="translate(594.3,99) scale(1,0.92)">Max Freq, kHz</text>
<text class="st" transform="translate(762.3,99) scale(1,0.92)">2250</text>
<text class="st" transform="translate(594.3,113) scale(1,0.92)">Min Range, km</text>
<text class="st" transform="translate(769.3,113) scale(1,0.92)">295</text>
<text class="st" transform="translate(594.3,127) scale(1,0.92)">Max Range, km</text>
<text class="st" transform="translate(769.3,127) scale(1,0.92)">317</text>
<text class="st" transform="translate(594.3,141) scale(1,0.92)">Max Amp, dB</text>
<text class="st" transform="translate(776.3,141) scale(1,0.92)">55</text>
<text class="st" transform="translate(594.3,155) scale(1,0.92)">Max SNR Amp, dB</text>
<text class="st" transform="translate(776.3,155) scale(1,0.92)">46</text>
<text class="st" transform="translate(594.3,169) scale(1,0.92)">Min SNR Amp, dB</text>
<text class="st" transform="translate(776.3,169) scale(1,0.92)">11</text>
<text class="st" transform="translate(594.3,183) scale(1,0.92)">Avg SNR Amp, dB</text>
<text class="st" transform="translate(776.3,183) scale(1,0.92)">26</text>
<text class="st" transform="translate(594.3,197) scale(1,0.92)">Max RMS Err, deg</text>
<text class="st" transform="translate(762.3,197) scale(1,0.92)">12.0</text>
<text class="st" transform="translate(594.3,211) scale(1,0.92)">Min RMS Err, deg</text>
<text class="st" transform="translate(769.3,211) scale(1,0.92)">0.0</text>
<text class="st" transform="translate(594.3,225) scale(1,0.92)">Avg RMS Err, deg</text>
<text class="st" transform="translate(769.3,225) scale(1,0.92)">3.4</text>
<text class="st" transform="translate(594.3,239) scale(1,0.92)">Doppler Res, Hz</text>
<text class="st" transform="translate(748.3,239) scale(1,0.92)">0.0977</text>
<text class="st" transform="translate(594.3,253) scale(1,0.92)">CIT, sec</text>
<text class="st" transform="translate(755.3,253) scale(1,0.92)">10.24</text>
<text class="st" transform="translate(594.3,267) scale(1,0.92)">Num of CITs</text>
<text class="st" transform="translate(783.3,267) scale(1,0.92)">3</text>
<text class="st" transform="translate(594.3,281) scale(1,0.92)">Polarization</text>
<text class="st" transform="translate(748.3,281) scale(1,0.92)">O-mode</text>
<text class="st" transform="translate(594.3,295) scale(1,0.92)">Center of Sources, deg:</text>
<text class="st" transform="translate(594.3,309) scale(1,0.92)">          Zenith</text>
<text class="st" transform="translate(769.3,309) scale(1,0.92)">0.5</text>
<text class="st" transform="translate(594.3,323) scale(1,0.92)">          Azimuth</text>
<text class="st" transform="translate(769.3,323) scale(1,0.92)">176</text>
<path d="M726.2 320 C726.3 317.6 724.3 316.9 722.6 318.8" fill="none" stroke="#222" stroke-width="1"/><path d="M720.4 319 L723.6 319.6 L721.6 321.4 Z" fill="#111"/>
<rect x="593" y="341" width="15" height="242" fill="url(#dop)"/>
<line x1="608.5" y1="341" x2="608.5" y2="583" stroke="#000" stroke-width="1" shape-rendering="crispEdges"/>
<line x1="608" y1="341.5" x2="615" y2="341.5" stroke="#000" stroke-width="1" shape-rendering="crispEdges"/>
<line x1="608" y1="345.5" x2="615" y2="345.5" stroke="#000" stroke-width="1" shape-rendering="crispEdges"/>
<line x1="608" y1="365.5" x2="615" y2="365.5" stroke="#000" stroke-width="1" shape-rendering="crispEdges"/>
<line x1="608" y1="384.5" x2="615" y2="384.5" stroke="#000" stroke-width="1" shape-rendering="crispEdges"/>
<line x1="608" y1="403.5" x2="615" y2="403.5" stroke="#000" stroke-width="1" shape-rendering="crispEdges"/>
<line x1="608" y1="423.5" x2="615" y2="423.5" stroke="#000" stroke-width="1" shape-rendering="crispEdges"/>
<line x1="608" y1="442.5" x2="615" y2="442.5" stroke="#000" stroke-width="1" shape-rendering="crispEdges"/>
<line x1="608" y1="461.5" x2="615" y2="461.5" stroke="#000" stroke-width="1" shape-rendering="crispEdges"/>
<line x1="608" y1="481.5" x2="615" y2="481.5" stroke="#000" stroke-width="1" shape-rendering="crispEdges"/>
<line x1="608" y1="500.5" x2="615" y2="500.5" stroke="#000" stroke-width="1" shape-rendering="crispEdges"/>
<line x1="608" y1="520.5" x2="615" y2="520.5" stroke="#000" stroke-width="1" shape-rendering="crispEdges"/>
<line x1="608" y1="539.5" x2="615" y2="539.5" stroke="#000" stroke-width="1" shape-rendering="crispEdges"/>
<line x1="608" y1="558.5" x2="615" y2="558.5" stroke="#000" stroke-width="1" shape-rendering="crispEdges"/>
<line x1="608" y1="578.5" x2="615" y2="578.5" stroke="#000" stroke-width="1" shape-rendering="crispEdges"/>
<line x1="608" y1="582.5" x2="615" y2="582.5" stroke="#000" stroke-width="1" shape-rendering="crispEdges"/>
<text class="cb" x="617.5" y="345.0">6.3</text>
<text class="cb" x="617.5" y="369.0">5.0</text>
<text class="cb" x="617.5" y="388.0">4.0</text>
<text class="cb" x="617.5" y="407.0">3.0</text>
<text class="cb" x="617.5" y="427.0">2.0</text>
<text class="cb" x="617.5" y="446.0">1.0</text>
<text class="cb" x="617.5" y="465.0">0</text>
<text class="cb" x="617.5" y="485.0">-1.0</text>
<text class="cb" x="617.5" y="504.0">-2.0</text>
<text class="cb" x="617.5" y="524.0">-3.0</text>
<text class="cb" x="617.5" y="543.0">-4.0</text>
<text class="cb" x="617.5" y="562.0">-5.0</text>
<text class="cb" x="617.5" y="586.0">-6.3</text>
<text class="cb" style="font-size:9.5px" textLength="53.5" lengthAdjust="spacing" transform="translate(657.2,493.3) rotate(-90)">Doppler, Hz</text>
<text class="cb" style="font-size:10px;fill:#0000f0" y="406"><tspan x="667.9" y="406.1" style="font-weight:normal;font-size:12px">+</tspan><tspan x="682" y="406">Positive</tspan></text>
<text class="cb" style="font-size:10px;fill:#e80000" y="526"><tspan x="669.3" y="526.2" style="font-weight:normal;font-size:12px">o</tspan><tspan x="682" y="526.2" style="letter-spacing:0.2px">Negative</tspan></text>
<text class="it" x="12" y="572">V</text><text class="s12" style="font-size:10px" x="19" y="576">h</text><text class="it" x="25" y="572"> = 58 ± 25 </text><text class="s12" x="102" y="572">m/s</text>
<text class="it" x="12" y="593">Geographic coordinates</text>
<text class="it" x="467" y="572">V</text><text class="s12" style="font-size:10px" x="474" y="576">z</text><text class="it" x="480" y="572"> = -22 ± 1 </text><text class="s12" x="557" y="572">m/s</text>
<text class="it" y="593"><tspan x="419">Zenith: max 40</tspan><tspan x="516.2">°</tspan><tspan x="534.5">step 5</tspan><tspan x="575.3">°</tspan></text>
<text class="sm" x="654.8" y="592.3" textLength="137.5" lengthAdjust="spacing">ShowSkymap v 1.0   SD v 5.1</text>
</svg></body></html>
